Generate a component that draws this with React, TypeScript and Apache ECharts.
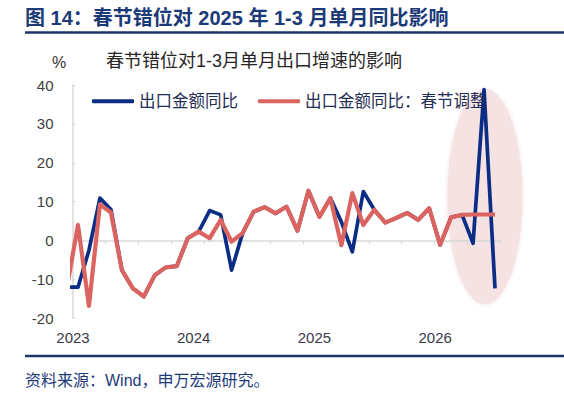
import React, { useEffect, useRef } from "react";
import * as echarts from "echarts";

// Months (2022-12 is only partly visible at the left edge of the plot)
const months = [
  "2022-12",
  "2023-01", "2023-02", "2023-03", "2023-04", "2023-05", "2023-06",
  "2023-07", "2023-08", "2023-09", "2023-10", "2023-11", "2023-12",
  "2024-01", "2024-02", "2024-03", "2024-04", "2024-05", "2024-06",
  "2024-07", "2024-08", "2024-09", "2024-10", "2024-11", "2024-12",
  "2025-01", "2025-02", "2025-03", "2025-04", "2025-05", "2025-06",
  "2025-07", "2025-08", "2025-09", "2025-10", "2025-11", "2025-12",
  "2026-01", "2026-02", "2026-03",
];

// 出口金额同比 (%)
const exportYoY = [
  -12,
  -12, -2.5, 10.9, 8.0, -7.6, -12.3, -14.4, -8.9, -6.9, -6.6, 0.6, 2.3,
  7.7, 6.6, -7.6, 1.9, 7.4, 8.6, 7.0, 8.7, 2.5, 12.8, 6.1, 10.9,
  4.8, -2.9, 12.6, 7.9, 4.6, 5.8, 7.1, 5.3, 8.3, -1.1, 6.0, 6.6,
  -0.7, 38.8, -12.3,
];

// 出口金额同比：春节调整 (%)
const exportYoYAdj = [
  -12,
  4.0, -16.8, 9.3, 7.2, -7.6, -12.3, -14.4, -8.9, -6.9, -6.6, 0.6, 2.3,
  0.6, 5.3, -0.3, 1.9, 7.4, 8.6, 7.0, 8.7, 2.5, 12.8, 6.1, 10.9,
  -1.2, 12.2, 4.0, 7.9, 4.6, 5.8, 7.1, 5.3, 8.3, -1.1, 6.0, 6.6,
  6.7, 6.7, 6.7,
];

// x tick labels, shown every 11 categories
const yearTicks = ["2023", "2024", "2025", "2026"];
const yearTickStep = 11;

// y axis
const yMin = -20;
const yMax = 40;
const yStep = 10;

const seriesNames = ["出口金额同比", "出口金额同比：春节调整"];

const FONT = '"Liberation Sans", Arial, "Noto Sans CJK SC", sans-serif';
const NAVY = "#1C3A78";

export default function App() {
  const ref = useRef<HTMLDivElement | null>(null);

  useEffect(() => {
    if (!ref.current) return;
    const chart = echarts.init(ref.current, undefined, { renderer: "svg" });
    const plotMonths = months.slice(1);

    const option: any = {
      animation: false,
      backgroundColor: "#ffffff",
      textStyle: { fontFamily: FONT },
      grid: { left: 72.5, right: 63.5, top: 85, bottom: 79.7, containLabel: false },
      legend: {
        left: 87,
        top: 88,
        itemWidth: 42,
        itemHeight: 4,
        itemGap: 20,
        icon: "roundRect",
        data: seriesNames,
        textStyle: { fontSize: 16.5, color: "#1F2E55", fontFamily: FONT },
      },
      xAxis: [
        {
          type: "category",
          data: plotMonths,
          boundaryGap: true,
          position: "bottom",
          axisLine: { show: true, onZero: true, lineStyle: { color: "#D9D9D9", width: 1.5 } },
          axisTick: { show: true, interval: 2, length: 4, lineStyle: { color: "#D9D9D9", width: 1.2 } },
          axisLabel: { show: false },
          splitLine: { show: false },
        },
        {
          type: "category",
          data: plotMonths,
          boundaryGap: true,
          position: "bottom",
          axisLine: { show: false, onZero: false },
          axisTick: { show: false },
          splitLine: { show: false },
          axisLabel: {
            show: true,
            interval: (index: number) => index % yearTickStep === 0,
            formatter: (_v: string, index: number) =>
              index % yearTickStep === 0 ? yearTicks[index / yearTickStep] || "" : "",
            fontSize: 15,
            color: "#383B48",
            fontFamily: FONT,
            margin: 12,
            padding: [0, 10, 0, 0],
          },
        },
        {
          type: "value",
          show: false,
          min: 0.5,
          max: months.length - 0.5,
        },
      ],
      yAxis: {
        type: "value",
        min: yMin,
        max: yMax,
        interval: yStep,
        axisLine: { show: true, onZero: false, lineStyle: { color: "#D9D9D9", width: 1.5 } },
        axisTick: { show: true, inside: true, length: 3, lineStyle: { color: "#D9D9D9" } },
        splitLine: { show: false },
        axisLabel: { fontSize: 15, color: "#404040", fontFamily: FONT, margin: 19 },
      },
      series: [
        {
          name: seriesNames[0],
          type: "line",
          xAxisIndex: 2,
          data: exportYoY.map((v, i) => [i, v]),
          symbol: "none",
          color: "#0B2D84",
          lineStyle: { width: 3.7, color: "#0B2D84", join: "round" },
          z: 3,
        },
        {
          name: seriesNames[1],
          type: "line",
          xAxisIndex: 2,
          data: exportYoYAdj.map((v, i) => [i, v]),
          symbol: "none",
          color: "#DB6461",
          lineStyle: { width: 4.2, color: "#DB6461", join: "round" },
          z: 4,
        },
      ],
      graphic: [
        {
          type: "ellipse",
          z: -1,
          silent: true,
          shape: { cx: 485, cy: 196.7, rx: 37.5, ry: 107.5 },
          style: { fill: "#F5E2E2", shadowBlur: 4, shadowColor: "#F5E2E2" },
        },
        {
          type: "text",
          x: 25,
          y: 18,
          style: {
            text: "图 14：春节错位对 2025 年 1-3 月单月同比影响",
            font: `bold 20px ${FONT}`,
            fill: NAVY,
            textVerticalAlign: "middle",
          },
        },
        {
          type: "line",
          shape: { x1: 25, y1: 32.5, x2: 564, y2: 32.5 },
          style: { stroke: "#1B3668", lineWidth: 2.5 },
        },
        {
          type: "text",
          x: 59,
          y: 62,
          style: {
            text: "%",
            font: `16px ${FONT}`,
            fill: "#333333",
            textAlign: "center",
            textVerticalAlign: "middle",
          },
        },
        {
          type: "text",
          x: 254,
          y: 61,
          style: {
            text: "春节错位对1-3月单月出口增速的影响",
            font: `18px ${FONT}`,
            fill: "#262626",
            textAlign: "center",
            textVerticalAlign: "middle",
          },
        },
        {
          type: "line",
          shape: { x1: 25, y1: 356, x2: 564, y2: 356 },
          style: { stroke: "#1B3668", lineWidth: 2.5 },
        },
        {
          type: "text",
          x: 25,
          y: 380,
          style: {
            text: "资料来源：Wind，申万宏源研究。",
            font: `16px ${FONT}`,
            fill: NAVY,
            textVerticalAlign: "middle",
          },
        },
      ],
    };

    chart.setOption(option);
    return () => {
      chart.dispose();
    };
  }, []);

  return (
    <div
      ref={ref}
      style={{ position: "fixed", left: 0, top: 0, width: 564, height: 398 }}
    />
  );
}
